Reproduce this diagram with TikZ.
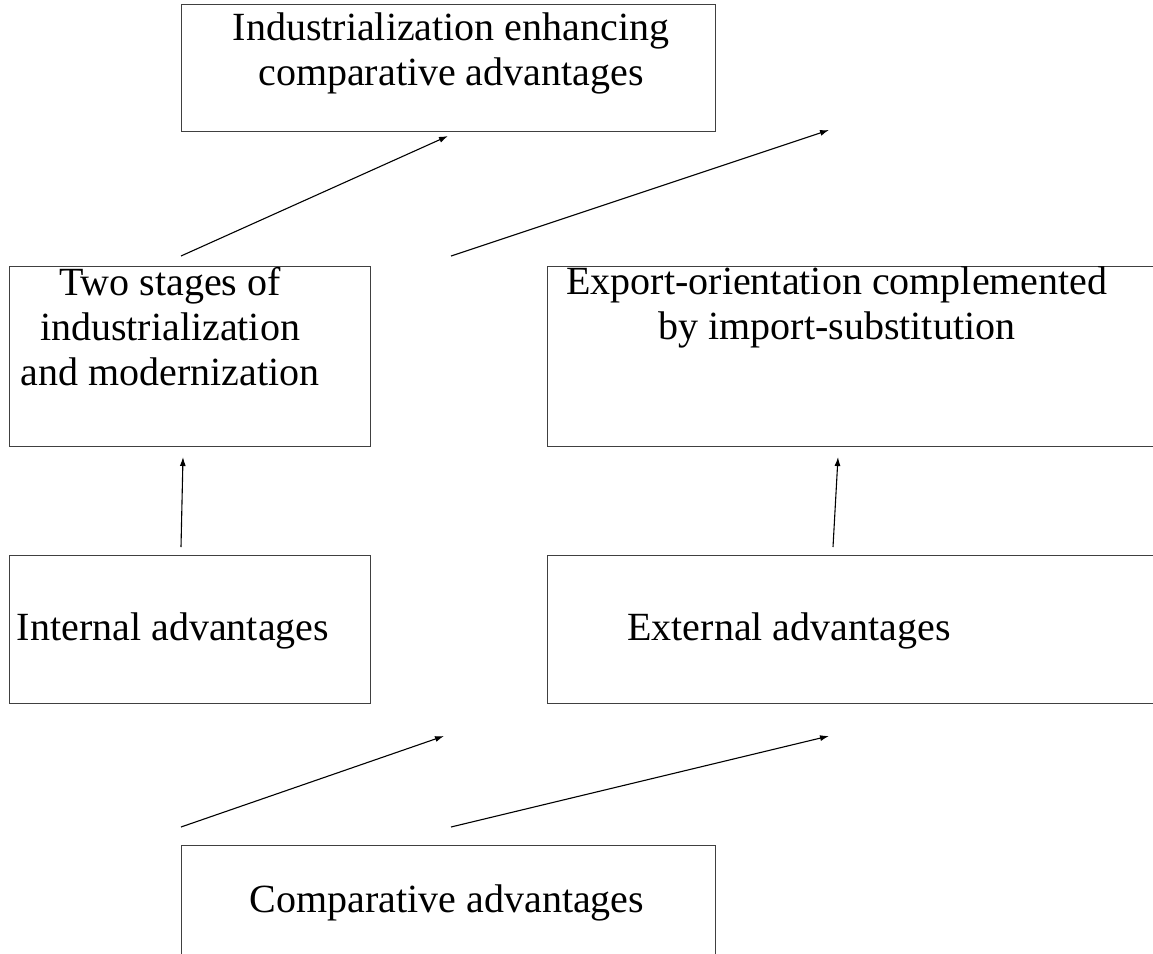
\documentclass[tikz,border=0pt]{standalone}
\usepackage{fontspec}
\setmainfont{Liberation Serif}
\usetikzlibrary{arrows.meta}

\tikzset{
  box/.style={draw=black!75, line width=1.3pt, rectangle, inner sep=0pt, anchor=north west},
  label/.style={font=\fontsize{40}{45}\selectfont, align=center, inner sep=0pt},
  link/.style={line width=1.1pt, -{Latex[length=9pt,width=6pt]}},
}

\begin{document}
\begin{tikzpicture}[x=1pt, y=-1pt]
  \useasboundingbox (0,0) rectangle (1153,953);
  \clip (0,0) rectangle (1153,953);

  % boxes
  \node[box, minimum width=534pt, minimum height=127pt] (top) at (181,4) {};
  \node[box, minimum width=361pt, minimum height=180pt] (stages) at (9,266) {};
  \node[box, minimum width=620pt, minimum height=180pt] (export) at (547,266) {};
  \node[box, minimum width=361pt, minimum height=148pt] (internal) at (9,555) {};
  \node[box, minimum width=620pt, minimum height=148pt] (external) at (547,555) {};
  \node[box, minimum width=534pt, minimum height=130pt] (comp) at (181,845) {};

  % texts
  \node[label] (ttop) at (451,53) {Industrialization enhancing\\comparative advantages};
  \node[label] (tstages) at (170,327) {Two stages of\\industrialization\\and modernization};
  \node[label] (texport) at (837,307) {Export-orientation complemented\\by import-substitution};
  \node[label] (tinternal) at (173,631) {Internal advantages};
  \node[label] (texternal) at (789,631) {External advantages};
  \node[label] (tcomp) at (447,903) {Comparative advantages};

  % arrow end points
  \coordinate (a1s) at (181,256);  \coordinate (a1e) at (448,136);
  \coordinate (a2s) at (451,256);  \coordinate (a2e) at (829,130);
  \coordinate (a3s) at (181,547);  \coordinate (a3e) at (183,457);
  \coordinate (a4s) at (833,547);  \coordinate (a4e) at (838,457);
  \coordinate (a5s) at (181,827);  \coordinate (a5e) at (444,736);
  \coordinate (a6s) at (451,827);  \coordinate (a6e) at (829,736);

  % arrows
  \draw[link] (a1s) -- (a1e);
  \draw[link] (a2s) -- (a2e);
  \draw[link] (a3s) -- (a3e);
  \draw[link] (a4s) -- (a4e);
  \draw[link] (a5s) -- (a5e);
  \draw[link] (a6s) -- (a6e);
\end{tikzpicture}
\end{document}
